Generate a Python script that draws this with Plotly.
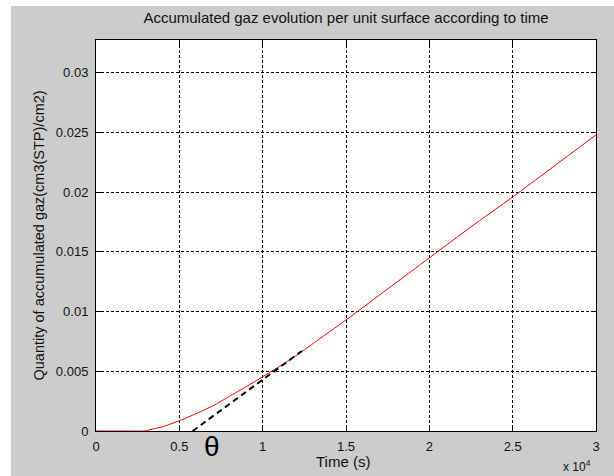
import plotly.graph_objects as go

# ---- data ----
time_s = [0, 1000, 2000, 2900, 3500, 4000, 5000, 6000, 7000, 8000, 9000,
          10000, 11000, 12000, 13000, 14000, 15000, 17500,
          20000, 22500, 25000, 27500, 30000]
gas_qty = [0, 0, 0, 0, 0.0002, 0.00036, 0.00086, 0.00145, 0.0021, 0.0029, 0.0037,
           0.00455, 0.0054, 0.0063, 0.0073, 0.0083, 0.0093, 0.0119,
           0.0145, 0.0171, 0.0196, 0.0222, 0.0248]

tangent_time = [5800, 12350]
tangent_qty = [0, 0.0067]

x_tickvals = [0, 5000, 10000, 15000, 20000, 25000, 30000]
x_ticktext = ["0", "0.5", "1", "1.5", "2", "2.5", "3"]
y_tickvals = [0, 0.005, 0.01, 0.015, 0.02, 0.025, 0.03]
y_ticktext = ["0", "0.005", "0.01", "0.015", "0.02", "0.025", "0.03"]

title_text = "Accumulated gaz evolution per unit surface according to time"
x_title = "Time (s)"
y_title = "Quantity of accumulated gaz(cm3(STP)/cm2)"

FONT = "Liberation Sans, Arial, Helvetica, sans-serif"
GRAY = "#cccccc"
TXT = "#111111"

fig = go.Figure()
fig.add_trace(go.Scatter(x=time_s, y=gas_qty, mode="lines",
                         line=dict(color="#ff0000", width=1, shape="spline", smoothing=0.6),
                         showlegend=False, hoverinfo="skip"))
fig.add_trace(go.Scatter(x=tangent_time, y=tangent_qty, mode="lines",
                         line=dict(color="black", width=2, dash="6px,4px"),
                         showlegend=False, hoverinfo="skip"))

W, H = 614, 476
L, R, T, B = 96, 18, 40, 45
pw, ph = W - L - R, H - T - B


def px(xp):
    return (xp - L) / pw


def py(yp):
    return (H - B - yp) / ph


axis_common = dict(
    showline=True, linecolor="black", linewidth=1, mirror="allticks",
    ticks="inside", ticklen=5, tickcolor="black", tickwidth=1,
    showgrid=True, gridcolor="black", gridwidth=1, griddash="3px,2px",
    zeroline=False, tickfont=dict(family=FONT, size=13, color=TXT),
    layer="below traces",
)

fig.update_xaxes(range=[0, 30000], tickmode="array", tickvals=x_tickvals,
                 ticktext=x_ticktext, ticklabelstandoff=3, **axis_common)
fig.update_yaxes(range=[0, 0.03275], tickmode="array", tickvals=y_tickvals,
                 ticktext=y_ticktext, ticklabelstandoff=4, **axis_common)

fig.update_layout(
    width=W, height=H,
    margin=dict(l=L, r=R, t=T, b=B, pad=0),
    paper_bgcolor=GRAY, plot_bgcolor="white",
    title=dict(text=title_text, font=dict(family=FONT, size=15, color=TXT),
               x=0.5, xref="paper", y=1 - 18 / H, yref="container",
               xanchor="center", yanchor="middle"),
    font=dict(family=FONT, size=13, color=TXT),
    shapes=[
        dict(type="rect", xref="paper", yref="paper", layer="below",
             x0=px(0), x1=px(11), y0=py(H), y1=py(0),
             fillcolor="white", line=dict(width=0)),
        dict(type="rect", xref="paper", yref="paper", layer="below",
             x0=px(0), x1=px(W), y0=py(6), y1=py(0),
             fillcolor="white", line=dict(width=0)),
    ],
    annotations=[
        dict(text=x_title, xref="paper", yref="paper", x=px(343), y=py(462),
             showarrow=False, xanchor="center", yanchor="middle",
             font=dict(family=FONT, size=15, color=TXT)),
        dict(text=y_title, xref="paper", yref="paper", x=px(38), y=0.5,
             textangle=-90, showarrow=False, xanchor="center", yanchor="middle",
             font=dict(family=FONT, size=14.5, color=TXT)),
        dict(text="x 10<sup>4</sup>", xref="paper", yref="paper", x=px(577), y=py(466),
             showarrow=False, xanchor="center", yanchor="middle",
             font=dict(family=FONT, size=12, color=TXT)),
        dict(text="θ", xref="paper", yref="paper", x=px(212), y=py(446),
             showarrow=False, xanchor="center", yanchor="middle",
             font=dict(family=FONT, size=28, color="black")),
    ],
)

fig.write_html("out.html",
               config={"displayModeBar": False},
               post_script="document.body.style.margin='0';document.body.style.overflow='hidden';")
